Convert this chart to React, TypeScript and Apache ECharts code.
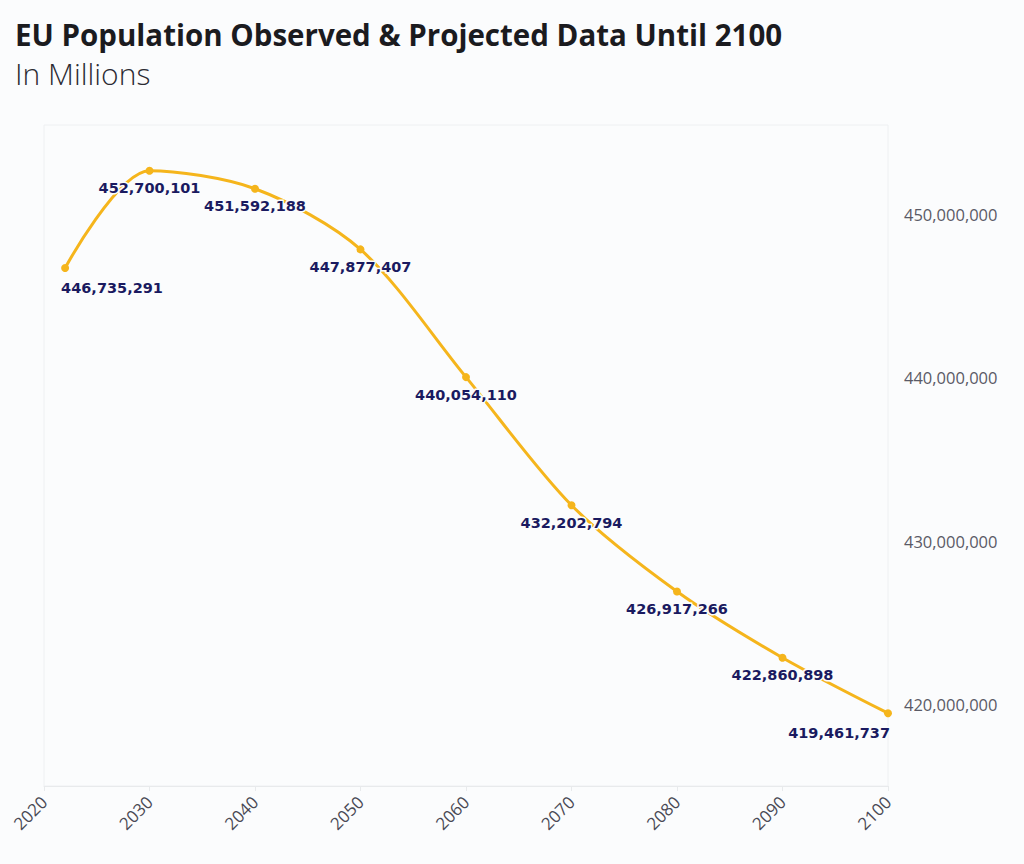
import React, { useEffect, useRef } from "react";
import * as echarts from "echarts";

const years = [2022, 2030, 2040, 2050, 2060, 2070, 2080, 2090, 2100];
const population = [
  446735291, 452700101, 451592188, 447877407, 440054110, 432202794, 426917266,
  422860898, 419461737,
];
const titleText = "EU Population Observed & Projected Data Until 2100";
const subtitleText = "In Millions";

const fmt = (v: number) => Math.round(v).toLocaleString("en-US");

export default function App() {
  const ref = useRef<HTMLDivElement>(null);
  useEffect(() => {
    if (!ref.current) return;
    const chart = echarts.init(ref.current, undefined, { renderer: "svg" });
    const data = years.map((y, i) => {
      const item: any = { value: [y, population[i]] };
      if (i === 0) item.label = { align: "left", offset: [-4, 2] };
      if (i === years.length - 1) item.label = { align: "right", offset: [2, 2] };
      return item;
    });
    chart.setOption({
      animation: false,
      backgroundColor: "#fbfcfd",
      title: [
        {
          text: titleText,
          left: 15,
          top: 19,
          padding: 0,
          textStyle: {
            fontFamily: "Open Sans",
            fontWeight: "bold",
            fontSize: 29.5,
            color: "#1b1b1f",
          },
        },
        {
          text: subtitleText,
          left: 15,
          top: 58,
          padding: 0,
          textStyle: {
            fontFamily: "Open Sans",
            fontWeight: 300,
            fontSize: 30,
            color: "#2b2b33",
          },
        },
      ],
      grid: {
        left: 44,
        right: 136,
        top: 125,
        bottom: 78,
        show: true,
        borderColor: "#eef0f2",
        borderWidth: 1,
      },
      xAxis: {
        type: "value",
        min: 2020,
        max: 2100,
        interval: 10,
        axisLine: { show: true, lineStyle: { color: "#e8eaec" } },
        axisTick: { show: true, length: 5, lineStyle: { color: "#e8eaec" } },
        splitLine: { show: false },
        axisLabel: {
          rotate: 45,
          fontSize: 17,
          color: "#4a4a55",
          fontFamily: "Open Sans",
          margin: 13,
          formatter: (v: number) => String(v),
        },
      },
      yAxis: {
        type: "value",
        position: "right",
        min: 415000000,
        max: 455500000,
        interval: 5000000,
        axisLine: { show: false },
        axisTick: { show: false },
        splitLine: { show: false },
        axisLabel: {
          fontSize: 16.5,
          color: "#5a5a66",
          fontFamily: "Open Sans",
          margin: 16,
          showMaxLabel: false,
          formatter: (v: number) => (v % 10000000 === 0 ? fmt(v) : ""),
        },
      },
      series: [
        {
          type: "line",
          data,
          smooth: 0.3,
          symbol: "circle",
          symbolSize: 8,
          lineStyle: { color: "#f5b51c", width: 3 },
          itemStyle: { color: "#f5b51c" },
          label: {
            show: true,
            position: "bottom",
            distance: 6,
            fontFamily: "DejaVu Sans",
            fontWeight: "bold",
            fontSize: 14.5,
            color: "#1a1a60",
            textBorderColor: "#fbfcfd",
            textBorderWidth: 3,
            formatter: (p: any) => fmt(p.value[1]),
          },
        },
      ],
    });
    return () => chart.dispose();
  }, []);
  return (
    <div
      ref={ref}
      style={{ position: "absolute", left: 0, top: 0, width: 1024, height: 864 }}
    />
  );
}
